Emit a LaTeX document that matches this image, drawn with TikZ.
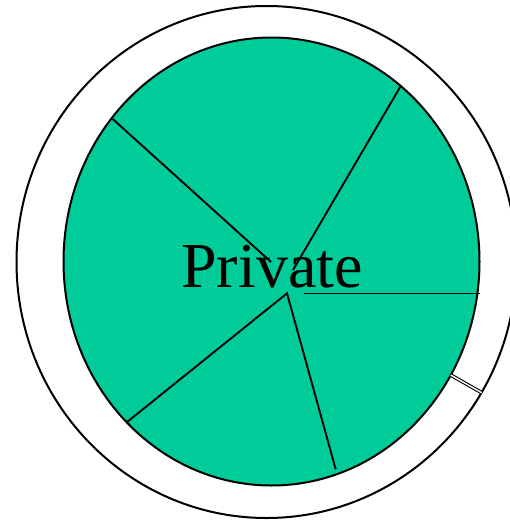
\documentclass[tikz,border=0pt]{standalone}
\usepackage{fontspec}
\setmainfont{Liberation Serif}
\definecolor{pgreen}{RGB}{0,204,153}
\begin{document}
\begin{tikzpicture}[x=1pt,y=-1pt,
  outline/.style={draw=black,line width=2pt},
  sector/.style={draw=black,line width=1.9pt}]
\useasboundingbox (0,0) rectangle (509,522);
% outer ring
\draw[outline,fill=white] (266.5,262) ellipse [x radius=250,y radius=256];
% green disc
\draw[outline,fill=pgreen] (271.5,261.5) ellipse [x radius=208,y radius=224];
% ring end caps
\draw[black,line width=1.1pt,double=white,double distance=1.4pt] (450.7,375) -- (481.7,392.7);
% sector lines
\draw[sector] (112.7,119) -- (271,262);
\draw[sector] (400.7,86) -- (293,270);
\draw[sector] (304,293.5) -- (480,293.5);
\draw[sector] (126.7,422.3) -- (287,293.3) -- (335.7,469.3);
\node[anchor=base,font=\fontsize{64}{70}\selectfont,inner sep=0pt] (lbl) at (272,287) {Private};
\end{tikzpicture}
\end{document}
